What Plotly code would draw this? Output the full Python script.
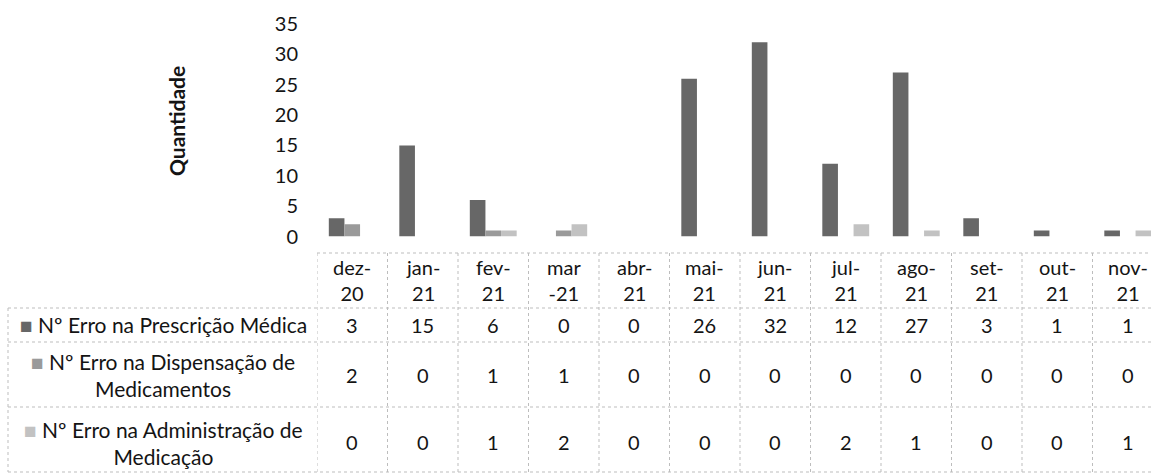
import plotly.graph_objects as go

# ---- data ----
months = ["dez-20", "jan-21", "fev-21", "mar-21", "abr-21", "mai-21",
          "jun-21", "jul-21", "ago-21", "set-21", "out-21", "nov-21"]
month_labels = ["dez-<br>20", "jan-<br>21", "fev-<br>21", "mar<br>-21", "abr-<br>21", "mai-<br>21",
                "jun-<br>21", "jul-<br>21", "ago-<br>21", "set-<br>21", "out-<br>21", "nov-<br>21"]
prescricao = [3, 15, 6, 0, 0, 26, 32, 12, 27, 3, 1, 1]
dispensacao = [2, 0, 1, 1, 0, 0, 0, 0, 0, 0, 0, 0]
administracao = [0, 0, 1, 2, 0, 0, 0, 2, 1, 0, 0, 1]
series_names = ["Nº Erro na Prescrição Médica",
                "Nº Erro na Dispensação de Medicamentos",
                "Nº Erro na Administração de Medicação"]
series_labels = ["Nº Erro na Prescrição Médica",
                 "Nº Erro na Dispensação de<br>Medicamentos",
                 "Nº Erro na Administração de<br>Medicação"]
y_ticks = [0, 5, 10, 15, 20, 25, 30, 35]
y_title = "Quantidade"

# ---- style ----
W, H = 1151, 474
FONT = "Lato"
TXT = "#141414"
GRID = "#bdbdbd"
colors = ["#676767", "#9a9a9a", "#c2c2c2"]
FS_NUM = 20
FS_HDR = 20
FS_LAB = 21

def py(px):
    return 1 - px / H

def pxx(px):
    return px / W

x_left = 317
col_w = 70.5
n = len(months)
x_max = -0.5 + (W - x_left) / col_w

fig = go.Figure()
series = [prescricao, dispensacao, administracao]
idx = list(range(n))
for name, vals, col in zip(series_names, series, colors):
    fig.add_trace(go.Bar(x=idx, y=vals, name=name, marker=dict(color=col, line=dict(width=0)),
                         hovertext=months))

# table rows (pixel positions)
top_hdr, hdr_bot, r1_bot, r2_bot, r3_bot = 253, 308, 342, 407, 472
row_centers = [325, 375, 442]
label_centers = [324, 375, 443]

shapes = []
shapes.append(dict(type="line", xref="paper", yref="paper", x0=pxx(x_left), x1=1,
                   y0=py(top_hdr), y1=py(top_hdr), line=dict(color=GRID, width=1, dash="dot")))
for yb in [hdr_bot, r1_bot, r2_bot, r3_bot]:
    shapes.append(dict(type="line", xref="paper", yref="paper", x0=pxx(8), x1=1,
                       y0=py(yb), y1=py(yb), line=dict(color=GRID, width=1, dash="dot")))
shapes.append(dict(type="line", xref="paper", yref="paper", x0=pxx(8), x1=pxx(8),
                   y0=py(hdr_bot), y1=py(r3_bot), line=dict(color=GRID, width=1, dash="dot")))
for i in range(n):
    xb = i - 0.5
    shapes.append(dict(type="line", xref="x", yref="paper", x0=xb, x1=xb,
                       y0=py(top_hdr), y1=py(r3_bot), line=dict(color=GRID, width=1, dash="dot")))

ann = []
for i, lab in enumerate(month_labels):
    ann.append(dict(x=i, y=py(280), xref="x", yref="paper", text=lab, showarrow=False,
                    font=dict(family=FONT, size=FS_HDR, color=TXT), xanchor="center", yanchor="middle"))
for r, vals in enumerate(series):
    for i, v in enumerate(vals):
        ann.append(dict(x=i, y=py(row_centers[r]), xref="x", yref="paper", text=str(v), showarrow=False,
                        font=dict(family=FONT, size=FS_NUM, color=TXT), xanchor="center", yanchor="middle"))
for r, lab in enumerate(series_labels):
    ann.append(dict(x=pxx(163), y=py(label_centers[r]), xref="paper", yref="paper",
                    text=f"<span style='color:{colors[r]}'>■</span> " + lab, showarrow=False,
                    align="center", font=dict(family=FONT, size=FS_LAB, color=TXT),
                    xanchor="center", yanchor="middle"))
ann.append(dict(x=pxx(176), y=py(121), xref="paper", yref="paper", text=f"<b>{y_title}</b>",
                textangle=-90, showarrow=False, font=dict(family=FONT, size=21, color=TXT),
                xanchor="center", yanchor="middle"))

fig.update_layout(
    width=W, height=H,
    margin=dict(l=0, r=0, t=0, b=0, pad=0),
    paper_bgcolor="white", plot_bgcolor="white",
    barmode="group", bargap=0.335, bargroupgap=0,
    showlegend=False,
    xaxis=dict(domain=[pxx(x_left), 1], range=[-0.5, x_max], showticklabels=False,
               showgrid=False, zeroline=False, showline=False, ticks="", automargin=False),
    yaxis=dict(domain=[py(236.5), py(24)], range=[0, 35], tickvals=y_ticks,
               showgrid=False, zeroline=False, showline=False, ticks="",
               ticklabelstandoff=18, automargin=False,
               tickfont=dict(family=FONT, size=FS_HDR, color=TXT)),
    shapes=shapes,
    annotations=ann,
    font=dict(family=FONT, color=TXT),
)

fig.write_html("out.html", config={"displayModeBar": False},
               post_script="document.body.style.margin='0';document.body.style.overflow='hidden';")
